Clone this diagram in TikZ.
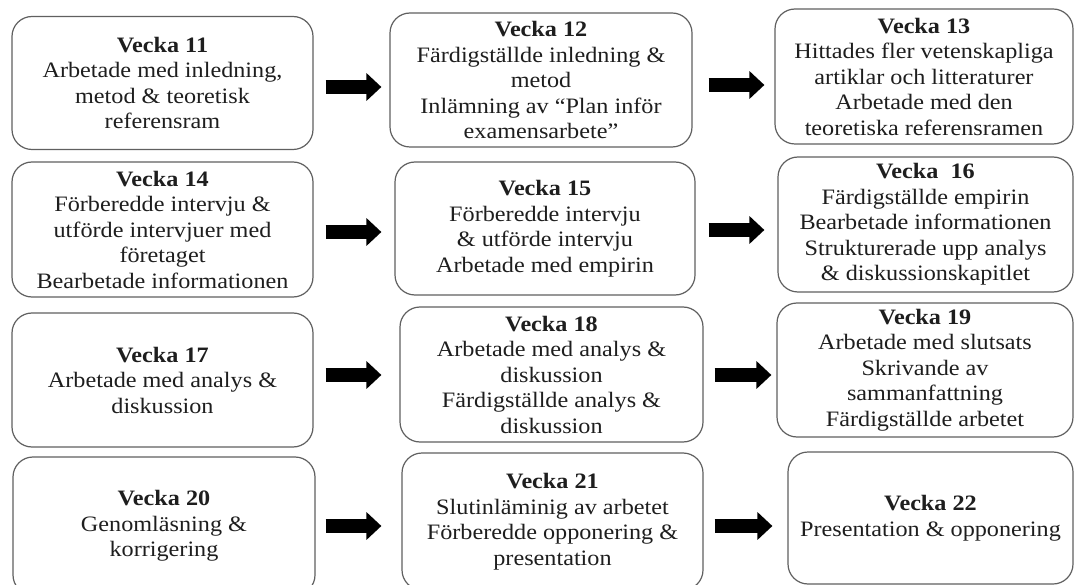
\documentclass[tikz,border=0pt]{standalone}
\usepackage{fontspec}
\setmainfont{Liberation Serif}[FakeStretch=1.1]
\usetikzlibrary{arrows.meta,calc}
\definecolor{boxline}{HTML}{606060}
\definecolor{txt}{HTML}{1E1E1E}
\tikzset{
  weekbox/.style={draw=boxline, line width=1.2pt, rounded corners=20pt, align=center,
    text=txt, font=\fontsize{22pt}{25.5pt}\selectfont, inner sep=0pt},
  blk/.style={draw=black, line width=14pt, -{Triangle[length=15pt,width=27pt]}}
}
\begin{document}
\begin{tikzpicture}[x=1pt,y=-1pt]
\useasboundingbox (0,0) rectangle (1076,585);
\clip (0,0) rectangle (1076,585);
\fill[white] (0,0) rectangle (1076,585);
% row 1
\node[weekbox, minimum width=301pt, minimum height=133pt] (w11) at (162.5,83)
  {\textbf{Vecka 11}\\Arbetade med inledning,\\metod \& teoretisk\\referensram};
\node[weekbox, minimum width=302pt, minimum height=134pt] (w12) at (541,80)
  {\textbf{Vecka 12}\\Färdigställde inledning \&\\metod\\Inlämning av “Plan inför\\examensarbete”};
\node[weekbox, minimum width=298pt, minimum height=135pt] (w13) at (924,76.5)
  {\textbf{Vecka 13}\\Hittades fler vetenskapliga\\artiklar och litteraturer\\Arbetade med den\\teoretiska referensramen};
% row 2
\node[weekbox, minimum width=301pt, minimum height=135pt] (w14) at (162.5,229.5)
  {\textbf{Vecka 14}\\Förberedde intervju \&\\utförde intervjuer med\\företaget\\Bearbetade informationen};
\node[weekbox, minimum width=300pt, minimum height=133pt] (w15) at (545,228.5)
  {\textbf{Vecka 15}\\Förberedde intervju\\\& utförde intervju\\Arbetade med empirin};
\node[weekbox, minimum width=295pt, minimum height=135pt] (w16) at (925.5,224.5)
  {\textbf{Vecka~~16}\\Färdigställde empirin\\Bearbetade informationen\\Strukturerade upp analys\\\& diskussionskapitlet};
% row 3
\node[weekbox, minimum width=301pt, minimum height=134pt] (w17) at (162.5,380)
  {\textbf{Vecka 17}\\Arbetade med analys \&\\diskussion};
\node[weekbox, minimum width=303pt, minimum height=135pt] (w18) at (551.5,374.5)
  {\textbf{Vecka 18}\\Arbetade med analys \&\\diskussion\\Färdigställde analys \&\\diskussion};
\node[weekbox, minimum width=296pt, minimum height=134pt] (w19) at (925,370)
  {\textbf{Vecka 19}\\Arbetade med slutsats\\Skrivande av\\sammanfattning\\Färdigställde arbetet};
% row 4
\node[weekbox, minimum width=302pt, minimum height=138pt] (w20) at (164,526)
  {\textbf{Vecka 20}\\Genomläsning \&\\korrigering};
\node[weekbox, minimum width=301pt, minimum height=137pt] (w21) at (552.5,521.5)
  {\textbf{Vecka 21}\\Slutinläminig av arbetet\\Förberedde opponering \&\\presentation};
\node[weekbox, minimum width=285pt, minimum height=132pt] (w22) at (930.5,518)
  {\textbf{Vecka 22}\\Presentation \& opponering};
% arrows
\coordinate (s1) at ($(w11.east)+(12,4)$);
\draw[blk] (s1) -- ([xshift=-8pt]w12.west |- s1);
\coordinate (s2) at ($(w12.east)+(16,5)$);
\draw[blk] (s2) -- ([xshift=-10pt]w13.west |- s2);
\coordinate (s3) at ($(w14.east)+(12,2.5)$);
\draw[blk] (s3) -- ([xshift=-13pt]w15.west |- s3);
\coordinate (s4) at ($(w15.east)+(13,1.5)$);
\draw[blk] (s4) -- ([xshift=-13pt]w16.west |- s4);
\coordinate (s5) at ($(w17.east)+(12,-5)$);
\draw[blk] (s5) -- ([xshift=-18pt]w18.west |- s5);
\coordinate (s6) at ($(w18.east)+(11,0.5)$);
\draw[blk] (s6) -- ([xshift=-5pt]w19.west |- s6);
\coordinate (s7) at ($(w20.east)+(10,0)$);
\draw[blk] (s7) -- ([xshift=-20pt]w21.west |- s7);
\coordinate (s8) at ($(w21.east)+(11,4.5)$);
\draw[blk] (s8) -- ([xshift=-15pt]w22.west |- s8);
\end{tikzpicture}
\end{document}
